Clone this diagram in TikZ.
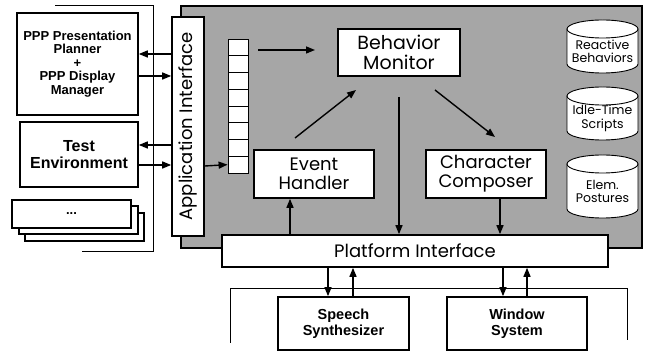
\documentclass[tikz,border=0pt]{standalone}
\usepackage{fontspec}
\setmainfont{Poppins}
\newfontfamily\helv{Liberation Sans}
\usetikzlibrary{arrows.meta}
\begin{document}
\begin{tikzpicture}[x=1pt,y=-1pt,
  frame/.style={draw, line width=1.6pt},
  box/.style={draw, line width=1.6pt, fill=white, inner sep=0pt, align=center},
  bigtext/.style={font=\fontsize{18}{19}\selectfont},
  smalltext/.style={font=\helv\bfseries\fontsize{13}{13.5}\selectfont},
  boldtext/.style={font=\helv\bfseries\fontsize{16}{17}\selectfont},
  servicetext/.style={font=\helv\bfseries\fontsize{14.5}{16}\selectfont},
  cyltext/.style={font=\fontsize{12.5}{13.5}\selectfont, align=center},
  link/.style={line width=1.4pt, -{Triangle[length=9pt,width=7pt]}},
  thinline/.style={line width=0.9pt}]
\useasboundingbox (0,0) rectangle (646,352);

% outer bracket round the application side
\draw[thinline] (55,5) -- (153,5) -- (153,251) -- (82,251);

% applications
\node[box, smalltext, minimum width=121pt, minimum height=102pt] (ppp) at (77.5,64)
  {PPP Presentation\\Planner\\+\\PPP Display\\Manager};
\node[box, boldtext, minimum width=118pt, minimum height=65pt] (test) at (79,154.5)
  {Test\\Environment};
\node[box, minimum width=119pt, minimum height=28pt] (more3) at (84.5,227) {};
\node[box, minimum width=119pt, minimum height=28pt] (more2) at (78.5,220) {};
\node[box, smalltext, minimum width=119pt, minimum height=28pt] (more1) at (71.5,214) {...};

% shaded core panel
\draw[frame, fill=black!35] (181,6) rectangle (642,248);

% application interface
\node[box, bigtext, rotate=90, minimum width=219pt, minimum height=32pt] (appif) at (188,126.5)
  {Application Interface};

% event queue
\foreach \i in {0,...,7}
  \node[draw, line width=0.8pt, fill=white, minimum width=20pt, minimum height=16.75pt, inner sep=0pt]
    (q\i) at (238,{47.4+\i*16.75}) {};

% core modules
\node[box, font=\fontsize{19}{20}\selectfont, minimum width=122pt, minimum height=47pt] (bm) at (399,52.5)
  {Behavior\\Monitor};
\node[box, bigtext, minimum width=120pt, minimum height=48pt] (eh) at (314,174)
  {Event\\Handler};
\node[box, bigtext, minimum width=120pt, minimum height=48pt] (cc) at (486,174)
  {Character\\Composer};

% databases
\foreach \n/\t/\b/\txt in {db1/20/73/{Reactive\\Behaviors}, db2/87/140/{Idle-Time\\Scripts}, db3/155/218/{Elem.\\Postures}}{
  \filldraw[thinline, fill=white] (567,\t+9) -- (567,\b-9)
    arc[start angle=180, end angle=360, x radius=35.5pt, y radius=9pt] -- (638,\t+9) -- cycle;
  \filldraw[thinline, fill=white] (602.5,\t+9) ellipse[x radius=35.5pt, y radius=9pt];
  \node[cyltext] (\n) at (602.5,{(\t+\b)/2+5}) {\txt};
}

% platform interface
\node[box, bigtext, minimum width=386pt, minimum height=32pt] (pif) at (415,251)
  {Platform Interface};

% platform services
\draw[thinline] (230,343) -- (230,288) -- (627,288) -- (627,340);
\node[box, servicetext, minimum width=131pt, minimum height=53pt] (speech) at (343.5,323.5)
  {Speech\\Synthesizer};
\node[box, servicetext, minimum width=140pt, minimum height=53pt] (win) at (517,323.5)
  {Window\\System};

% connections between applications and the application interface
\draw[link] (appif.north |- 0,54) -- (ppp.east |- 0,54);
\draw[link] (ppp.east |- 0,76) -- (appif.north |- 0,76);
\draw[link] (appif.north |- 0,145) -- (test.east |- 0,145);
\draw[link] (test.east |- 0,165) -- (appif.north |- 0,165);
\draw[link] (appif.south |- 0,166) -- (q7.west);

% flow inside the core
\coordinate (qout) at (258,50);
\coordinate (bmin) at (315,50);
\draw[link] (qout) -- (bmin);
\coordinate (ehout) at (295,138);
\coordinate (bmlow) at (356,90);
\draw[link] (ehout) -- (bmlow);
\coordinate (bmdown) at (399,97);
\draw[link] (bmdown) -- (pif.north -| bmdown);
\coordinate (bmright) at (435,90);
\coordinate (ccin) at (495,137);
\draw[link] (bmright) -- (ccin);
\draw[link] (pif.north -| 290,0) -- (eh.south -| 290,0);
\draw[link] (cc.south -| 500,0) -- (pif.north -| 500,0);

% connections to the platform services
\draw[link] (pif.south -| 328,0) -- (speech.north -| 328,0);
\draw[link] (speech.north -| 353,0) -- (pif.south -| 353,0);
\draw[link] (pif.south -| 503,0) -- (win.north -| 503,0);
\draw[link] (win.north -| 527,0) -- (pif.south -| 527,0);
\end{tikzpicture}
\end{document}
